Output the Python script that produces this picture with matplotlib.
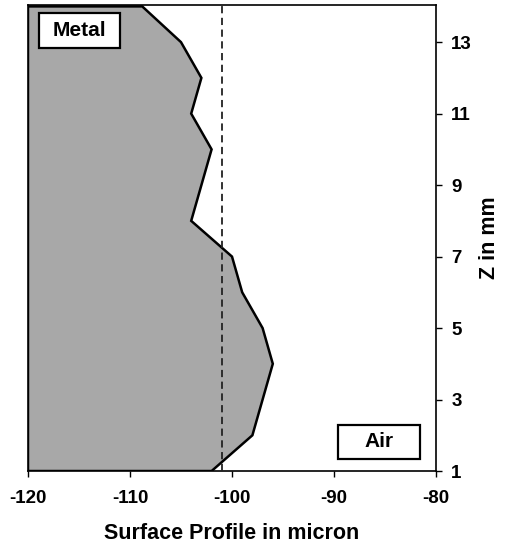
import matplotlib
matplotlib.use("Agg")
import matplotlib.pyplot as plt
from matplotlib.patches import Rectangle

z_mm = [1, 2, 3, 4, 5, 6, 7, 8, 9, 10, 11, 12, 13, 14]
profile = [-102, -98, -97, -96, -97, -99, -100, -104, -103, -102, -104, -103, -105, -108.8]
mean_line = -101
x_ticks = [-120, -110, -100, -90, -80]
y_ticks = [1, 3, 5, 7, 9, 11, 13]

plt.rcParams['font.family'] = ['Liberation Sans', 'DejaVu Sans']
plt.rcParams['font.weight'] = 'bold'

fig = plt.figure(figsize=(5.06, 5.47), dpi=100)
ax = fig.add_axes([0.0553, 0.1389, 0.8064, 0.852])

xs = [-120] + profile + [-120]
ys = [z_mm[0]] + z_mm + [z_mm[-1]]
ax.fill(xs, ys, facecolor='#a8a8a8', edgecolor='black', linewidth=1.8, zorder=2)
ax.axvline(mean_line, color='#222222', linestyle=(0, (4, 2.5)), linewidth=1.3, zorder=3)

ax.set_xlim(-120, -80)
ax.set_ylim(1, 14.04)
ax.set_xticks(x_ticks)
ax.set_xticklabels([str(v) for v in x_ticks])
ax.set_yticks(y_ticks)
ax.yaxis.tick_right()
ax.yaxis.set_label_position('right')
ax.tick_params(axis='both', direction='out', length=4, width=1, labelsize=13.5)
ax.tick_params(axis='x', pad=10)
ax.tick_params(axis='y', pad=7)
for lab in ax.get_xticklabels() + ax.get_yticklabels():
    lab.set_fontweight('bold')
for s in ax.spines.values():
    s.set_linewidth(1.2)

ax.set_xlabel('Surface Profile in micron', fontsize=15.5, fontweight='bold', labelpad=11)
ax.set_ylabel('Z in mm', fontsize=15.5, fontweight='bold', labelpad=5)

def label_box(x0, y0, x1, y1, text):
    ax.add_patch(Rectangle((x0, y0), x1 - x0, y1 - y0, transform=ax.transAxes,
                           facecolor='white', edgecolor='black', linewidth=1.6, zorder=5))
    ax.text((x0 + x1) / 2, (y0 + y1) / 2, text, transform=ax.transAxes,
            fontsize=15, fontweight='bold', ha='center', va='center', zorder=6)

label_box(0.027, 0.9075, 0.2255, 0.983, 'Metal')
label_box(0.7605, 0.0265, 0.961, 0.099, 'Air')

fig.savefig('out.png', dpi=100)
